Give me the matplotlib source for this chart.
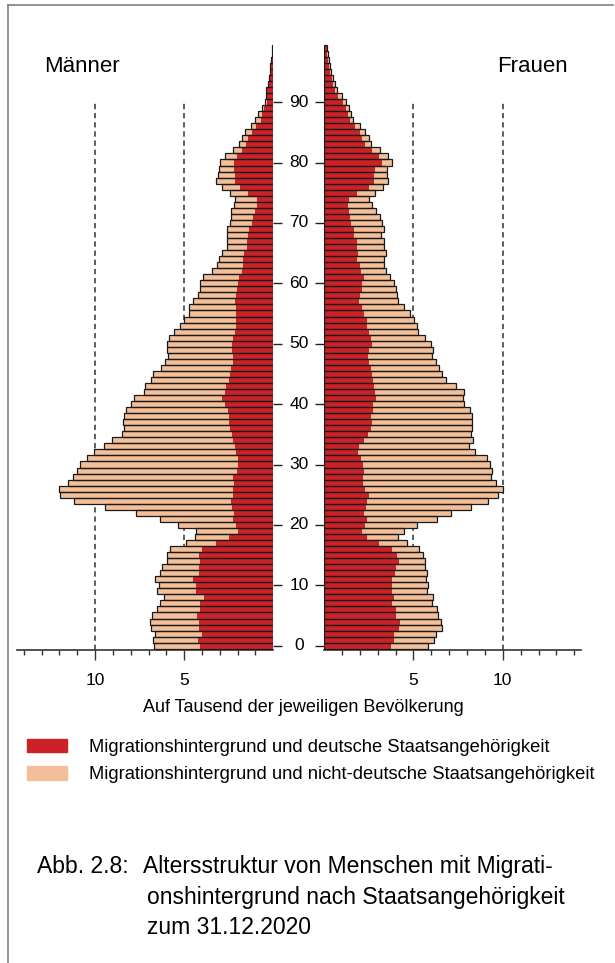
import numpy as np
import matplotlib.pyplot as plt
from matplotlib.patches import Patch
from matplotlib.lines import Line2D
from matplotlib.transforms import blended_transform_factory

plt.rcParams['font.family'] = ['Liberation Sans', 'DejaVu Sans']

# Alter 0..99, Werte je Tausend der jeweiligen Bevoelkerung
alter = np.arange(100)

# Maenner: Gesamtlaenge der Balken und deutscher Anteil (rot)
m_ges = [6.70, 6.74, 6.63, 6.84, 6.89, 6.80, 6.55, 6.37, 6.12, 6.50,
         6.40, 6.65, 6.33, 6.22, 5.99, 5.99, 5.79, 4.91, 4.40, 4.34,
         5.34, 6.37, 7.68, 9.46, 11.20, 11.99, 12.02, 11.52, 11.24, 11.01,
         10.82, 10.45, 10.06, 9.49, 9.03, 8.46, 8.39, 8.43, 8.39, 8.24,
         7.96, 7.79, 7.27, 7.21, 6.84, 6.74, 6.31, 6.09, 5.90, 5.96,
         5.96, 5.86, 5.58, 5.24, 5.00, 4.72, 4.72, 4.49, 4.25, 4.12,
         4.12, 3.93, 3.45, 3.18, 3.05, 2.87, 2.58, 2.57, 2.57, 2.62,
         2.43, 2.40, 2.38, 2.21, 2.15, 2.43, 2.85, 3.22, 3.13, 3.07,
         3.00, 2.72, 2.25, 1.95, 1.76, 1.57, 1.27, 1.03, 0.88, 0.62,
         0.49, 0.40, 0.39, 0.32, 0.26, 0.21, 0.16, 0.12, 0.09, 0.07]
m_dt = [4.12, 4.21, 4.01, 4.19, 4.18, 4.27, 4.12, 4.12, 3.90, 4.31,
        4.31, 4.53, 4.19, 4.18, 4.12, 4.16, 4.01, 3.22, 2.51, 1.97,
        2.12, 2.25, 2.21, 2.32, 2.36, 2.28, 2.25, 2.19, 2.25, 2.04,
        1.97, 1.97, 2.12, 2.17, 2.25, 2.30, 2.43, 2.47, 2.49, 2.55,
        2.72, 2.87, 2.73, 2.66, 2.51, 2.43, 2.40, 2.25, 2.27, 2.30,
        2.30, 2.28, 2.13, 2.12, 2.12, 2.12, 2.12, 2.15, 2.12, 2.06,
        2.00, 1.95, 1.74, 1.69, 1.69, 1.65, 1.50, 1.46, 1.40, 1.35,
        1.22, 1.12, 1.03, 0.90, 0.90, 1.42, 1.87, 2.15, 2.17, 2.19,
        2.19, 2.04, 1.76, 1.54, 1.40, 1.20, 0.97, 0.71, 0.66, 0.52,
        0.38, 0.33, 0.33, 0.28, 0.24, 0.19, 0.15, 0.11, 0.08, 0.06]

# Frauen
f_ges = [5.82, 6.16, 6.24, 6.59, 6.54, 6.39, 6.31, 6.05, 6.09, 5.75,
         5.79, 5.69, 5.75, 5.67, 5.64, 5.56, 5.30, 4.66, 4.14, 4.49,
         5.22, 6.31, 7.08, 8.22, 9.19, 9.76, 10.02, 9.64, 9.33, 9.42,
         9.29, 9.10, 8.43, 8.13, 8.33, 8.20, 8.30, 8.26, 8.30, 8.16,
         7.81, 7.79, 7.85, 7.40, 6.84, 6.59, 6.46, 6.29, 6.05, 6.07,
         5.96, 5.64, 5.24, 5.22, 5.06, 4.79, 4.49, 4.12, 4.08, 4.04,
         3.93, 3.71, 3.48, 3.37, 3.35, 3.48, 3.35, 3.37, 3.18, 3.37,
         3.26, 3.11, 2.90, 2.68, 2.49, 2.88, 3.30, 3.58, 3.52, 3.52,
         3.82, 3.58, 3.11, 2.62, 2.51, 2.30, 2.02, 1.65, 1.50, 1.39,
         1.23, 1.01, 0.70, 0.59, 0.50, 0.41, 0.34, 0.28, 0.22, 0.18]
f_dt = [3.73, 3.91, 3.91, 4.19, 4.25, 4.04, 4.04, 3.80, 3.93, 3.82,
        3.82, 3.78, 3.97, 4.04, 4.18, 4.08, 3.82, 3.07, 2.40, 2.15,
        2.28, 2.43, 2.25, 2.36, 2.40, 2.49, 2.30, 2.17, 2.17, 2.25,
        2.17, 2.06, 1.91, 1.97, 2.21, 2.45, 2.64, 2.70, 2.62, 2.73,
        2.75, 2.90, 2.88, 2.77, 2.72, 2.68, 2.62, 2.49, 2.45, 2.53,
        2.66, 2.62, 2.49, 2.42, 2.40, 2.23, 2.13, 1.95, 2.02, 2.10,
        2.15, 2.21, 2.08, 1.99, 1.87, 1.89, 1.87, 1.87, 1.70, 1.69,
        1.52, 1.46, 1.42, 1.33, 1.42, 1.87, 2.49, 2.81, 2.81, 2.87,
        3.24, 3.05, 2.70, 2.27, 2.15, 1.99, 1.74, 1.46, 1.33, 1.24,
        1.05, 0.81, 0.62, 0.52, 0.44, 0.36, 0.30, 0.24, 0.19, 0.15]

m_ndt = np.array(m_ges) - np.array(m_dt)
f_ndt = np.array(f_ges) - np.array(f_dt)

rot = '#cd2128'
hell = '#f2bf98'
W, H = 615, 963


def px(x0, y0, x1, y1):
    return [x0 / W, 1 - y1 / H, (x1 - x0) / W, (y1 - y0) / H]


fig = plt.figure(figsize=(6.15, 9.63), dpi=100)
ax_m = fig.add_axes(px(17.3, 41.7, 273.3, 649.7))
ax_f = fig.add_axes(px(324, 41.7, 580.7, 649.7))

ymin = -0.66
for ax, dt, ndt in ((ax_m, m_dt, m_ndt), (ax_f, f_dt, f_ndt)):
    ax.vlines([5, 10], ymin, 90, colors='#333333', linestyles=(0, (3.5, 2.5)),
              lw=1.1, zorder=1)
    ax.barh(alter, dt, height=1.0, color=rot, lw=0, zorder=2)
    ax.barh(alter, ndt, left=dt, height=1.0, color=hell, lw=0, zorder=2)
    ax.barh(alter, np.array(dt) + ndt, height=1.0, fill=False,
            edgecolor='#1a1a1a', lw=0.9, zorder=3)
    ax.set_ylim(ymin, 100)
    ax.set_xticks([5, 10])
    ax.set_xticks(range(1, 15), minor=True)
    ax.tick_params(axis='x', which='major', length=7.5, width=1, pad=9,
                   labelsize=12.5, color='#333333')
    ax.tick_params(axis='x', which='minor', length=3.5, width=1, color='#333333')
    ax.set_yticks(range(0, 91, 10))
    ax.tick_params(axis='y', length=6.5, width=1, labelleft=False,
                   labelright=False, color='#222222')
    for s in ('top', 'left', 'right'):
        ax.spines[s].set_visible(False)
    ax.spines['bottom'].set_linewidth(1.2)
    ax.spines['bottom'].set_color('#333333')

ax_m.set_xlim(14.36, 0)
ax_f.set_xlim(0, 14.36)
ax_m.yaxis.tick_right()
ax_f.yaxis.tick_left()

trans = blended_transform_factory(fig.transFigure, ax_m.transData)
for a in range(0, 91, 10):
    ax_m.text(299 / W, a, str(a), transform=trans, ha='center', va='center',
              fontsize=12.5)

fig.text(44 / W, 1 - 67 / H, 'Männer', fontsize=16, ha='left', va='center')
fig.text(568 / W, 1 - 67 / H, 'Frauen', fontsize=16, ha='right', va='center')
fig.text(303 / W, 1 - 707 / H, 'Auf Tausend der jeweiligen Bevölkerung',
         fontsize=13, ha='center', va='center')

handles = [Patch(color=rot), Patch(color=hell)]
labels = ['Migrationshintergrund und deutsche Staatsangehörigkeit',
          'Migrationshintergrund und nicht-deutsche Staatsangehörigkeit']
fig.legend(handles, labels, loc='upper left', bbox_to_anchor=(27 / W, 1 - 739 / H),
           frameon=False, fontsize=13.2, handlelength=2.2, handleheight=0.75,
           handletextpad=1.2, labelspacing=0.55, borderpad=0, borderaxespad=0)

cap_y = [866, 897, 927]
fig.text(37 / W, 1 - cap_y[0] / H, 'Abb. 2.8:', fontsize=16.5, ha='left', va='center')
cap_x = [143, 147, 147]
for x, y, t in zip(cap_x, cap_y, ['Altersstruktur von Menschen mit Migrati-',
                                  'onshintergrund nach Staatsangehörigkeit',
                                  'zum 31.12.2020']):
    fig.text(x / W, 1 - y / H, t, fontsize=16.5, ha='left', va='center')

# Rahmen
fig.add_artist(Line2D([7.5 / W, 7.5 / W], [0, 1 - 5.5 / H], color='#808080', lw=1.2))
fig.add_artist(Line2D([7.5 / W, 613 / W], [1 - 5.5 / H, 1 - 5.5 / H], color='#808080', lw=1.2))

fig.savefig('out.png', dpi=100)
